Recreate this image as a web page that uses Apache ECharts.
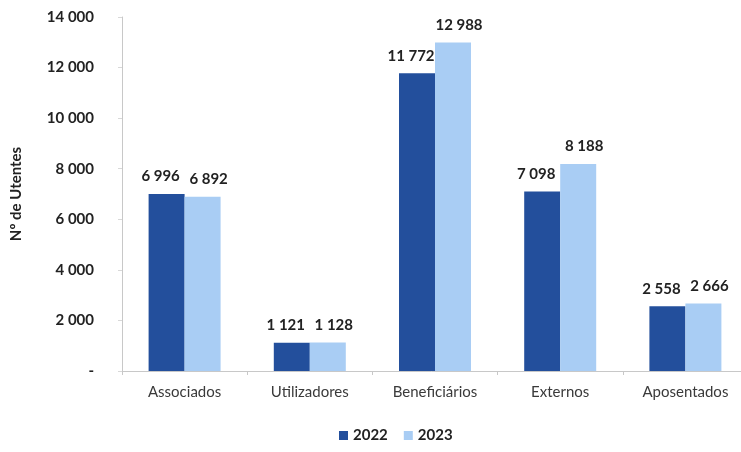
<!DOCTYPE html>
<html><head><meta charset="utf-8">
<script src="https://cdn.jsdelivr.net/npm/echarts@6/dist/echarts.min.js"></script>
<style>html,body{margin:0;padding:0;background:#fff}#c{width:741px;height:452px}</style>
</head><body><div id="c"></div>
<script>
const categories = ['Associados','Utilizadores','Beneficiários','Externos','Aposentados'];
const values2022 = [6996, 1121, 11772, 7098, 2558];
const values2023 = [6892, 1128, 12988, 8188, 2666];
const seriesNames = ['2022','2023'];
const yTicks = { min: 0, max: 14000, interval: 2000 };

function fmt(v){
  if (v === 0) return '-';
  return String(v).replace(/\B(?=(\d{3})+(?!\d))/g, ' ');
}
const font = 'Lato, "Open Sans", sans-serif';
const chart = echarts.init(document.getElementById('c'));
function lbl(dx){
  return {show:true, position:'top', distance:10, offset:[dx,0], formatter:p=>fmt(p.value),
    color:'#222', fontWeight:'bold', fontSize:15, fontFamily:font};
}
chart.setOption({
  animation:false,
  grid:{left:122, width:626, top:17, bottom:81, outerBoundsMode:'none', containLabel:false},
  legend:{bottom:4, left:334, itemWidth:9, itemHeight:9, itemGap:16, icon:'rect',
    textStyle:{color:'#222', fontWeight:'bold', fontSize:15, fontFamily:font},
    data:seriesNames},
  xAxis:{type:'category', data:categories,
    axisLine:{lineStyle:{color:'#c8c8c8'}},
    axisTick:{show:true, length:4, lineStyle:{color:'#c8c8c8'}},
    axisLabel:{color:'#3a3a3a', fontSize:15, fontFamily:font, margin:14}},
  yAxis:{type:'value', min:yTicks.min, max:yTicks.max, interval:yTicks.interval,
    name:'Nº de Utentes', nameLocation:'middle', nameGap:98, nameRotate:90,
    nameTextStyle:{color:'#222', fontWeight:'bold', fontSize:15, fontFamily:font},
    axisLine:{show:true, lineStyle:{color:'#c8c8c8'}},
    axisTick:{show:true, length:4, lineStyle:{color:'#d8d8d8'}},
    splitLine:{show:false},
    axisLabel:{formatter:fmt, color:'#222', fontWeight:'bold', fontSize:15, fontFamily:font, margin:28}},
  series:[
    {name:seriesNames[0], type:'bar', data:values2022, barWidth:36, barGap:'0%',
      itemStyle:{color:'#234f9c'}, label:lbl(-6)},
    {name:seriesNames[1], type:'bar', data:values2023, barWidth:36,
      itemStyle:{color:'#a9cdf4'}, label:lbl(6)}
  ]
});
</script></body></html>
